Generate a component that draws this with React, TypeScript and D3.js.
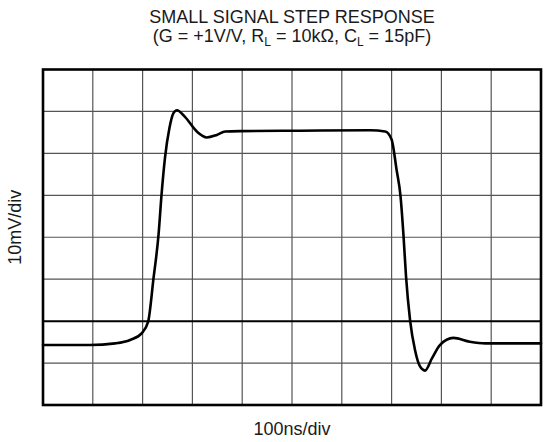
import React from 'react'
import * as d3 from 'd3'

// scope trace, in divisions (x: 0..10 time div, y: 0..8 voltage div from bottom)
const timeDiv = [0, 0.94, 1.45, 1.75, 1.98, 2.11, 2.22, 2.32, 2.38, 2.45, 2.54, 2.62, 2.69, 2.85, 3.09, 3.29, 3.49, 3.66, 3.96, 5.16, 6.57, 6.87, 7.0, 7.1, 7.18, 7.24, 7.29, 7.37, 7.47, 7.57, 7.67, 7.81, 7.97, 8.24, 8.57, 8.88, 10]
const levelDiv = [1.43, 1.43, 1.47, 1.55, 1.71, 1.98, 3.03, 4.06, 5.01, 5.9, 6.61, 6.96, 7.03, 6.87, 6.52, 6.38, 6.44, 6.52, 6.53, 6.54, 6.55, 6.52, 6.33, 5.61, 4.97, 4.02, 3.06, 2.03, 1.31, 0.92, 0.82, 1.11, 1.43, 1.6, 1.51, 1.47, 1.47]

const xDivs = 10
const yDivs = 8
const refLine = 2 // reference level, divisions from bottom

const titleLine1 = 'SMALL SIGNAL STEP RESPONSE'
const xLabel = '100ns/div'
const yLabel = '10mV/div'

const W = 545
const H = 442
const box = { left: 43, right: 541, top: 69.5, bottom: 405 }
const font = '"Liberation Sans", Arial, Helvetica, sans-serif'
const ink = '#1a1a1a'

export default function App() {
	const x = d3.scaleLinear().domain([0, xDivs]).range([box.left, box.right])
	const y = d3.scaleLinear().domain([0, yDivs]).range([box.bottom, box.top])

	const pts = timeDiv.map((t, i) => [t, levelDiv[i]])
	const line = d3.line()
		.x((d) => x(d[0]))
		.y((d) => y(d[1]))
		.curve(d3.curveMonotoneX)

	const cx = (box.left + box.right) / 2

	return (
		<svg width={W} height={H} style={{ position: 'absolute', left: 0, top: 0, display: 'block', background: 'white' }}>
			<rect x={0} y={0} width={W} height={H} fill="white" />

			{/* title */}
			<text x={cx} y={23} textAnchor="middle" fontFamily={font} fontSize={18} fill={ink}>
				{titleLine1}
			</text>
			<text x={cx} y={42} textAnchor="middle" fontFamily={font} fontSize={18} fill={ink}>
				(G = +1V/V, R
				<tspan fontSize={12} dy={4}>L</tspan>
				<tspan dy={-4}> = 10kΩ, C</tspan>
				<tspan fontSize={12} dy={4}>L</tspan>
				<tspan dy={-4}> = 15pF)</tspan>
			</text>

			{/* grid */}
			<g className="grid">
				{d3.range(1, xDivs).map((i) => (
					<line key={'v' + i} x1={x(i)} x2={x(i)} y1={box.top} y2={box.bottom} stroke="#555" strokeWidth={1.2} />
				))}
				{d3.range(1, yDivs).filter((j) => j !== refLine).map((j) => (
					<line key={'h' + j} x1={box.left} x2={box.right} y1={y(j)} y2={y(j)} stroke="#555" strokeWidth={1.2} />
				))}
				<line x1={box.left} x2={box.right} y1={y(refLine)} y2={y(refLine)} stroke="#000" strokeWidth={2} />
			</g>

			{/* trace */}
			<path d={line(pts)} fill="none" stroke="#000" strokeWidth={2.6} strokeLinejoin="round" strokeLinecap="round" />

			{/* border */}
			<rect x={box.left} y={box.top} width={box.right - box.left} height={box.bottom - box.top} fill="none" stroke="#000" strokeWidth={2.6} />

			{/* axis labels */}
			<text x={cx} y={435} textAnchor="middle" fontFamily={font} fontSize={18} fill={ink}>{xLabel}</text>
			<text transform={`translate(21, ${(box.top + box.bottom) / 2 - 10}) rotate(-90)`} textAnchor="middle" fontFamily={font} fontSize={18} fill={ink}>{yLabel}</text>
		</svg>
	)
}
